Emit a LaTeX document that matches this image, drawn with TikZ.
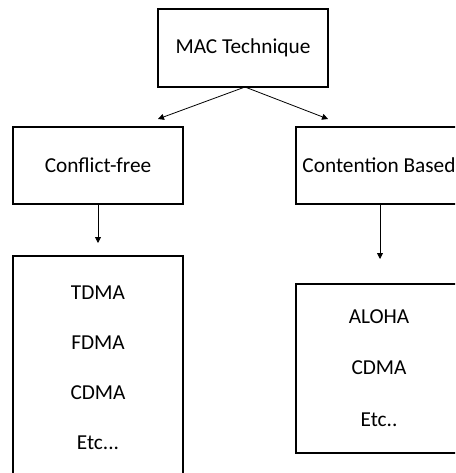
\documentclass[tikz,border=0pt]{standalone}
\usepackage{fontspec}
\setmainfont{Carlito}
\usetikzlibrary{arrows.meta}
\begin{document}
\begin{tikzpicture}[x=1pt,y=-1pt,
  box/.style={draw=black,line width=1.5pt,fill=white,inner sep=0pt,
    font=\fontsize{21.3}{50}\selectfont,align=center},
  link/.style={line width=0.8pt,-{Triangle[length=6pt,width=6pt]}}]
\useasboundingbox (0,0) rectangle (455,473);
\clip (0,0) rectangle (455,473);
% top level
\node[box,minimum width=170pt,minimum height=78pt] (mac) at (243,48) {MAC Technique};
% second level
\node[box,minimum width=170pt,minimum height=77pt] (free) at (98,165.5) {Conflict-free};
\node[box,minimum width=166pt,minimum height=77pt] (cont) at (379,165.5) {Contention Based};
% protocol lists
\node[box,minimum width=170pt,minimum height=223pt] (freelist) at (98,367.5)
  {TDMA\\FDMA\\CDMA\\Etc...};
\node[box,minimum width=166pt,minimum height=169pt] (contlist) at (379,368.5)
  {ALOHA\\[1pt]CDMA\\[2pt]Etc..};
% arrow ends
\coordinate (apex) at (245,87);
\coordinate (tipL) at (158,119);
\coordinate (tipR) at (328,119);
\coordinate (freeEnd) at (98,243);
\coordinate (contStart) at (380,204);
\coordinate (contEnd) at (380,259);
\draw[link] (apex) -- (tipL);
\draw[link] (apex) -- (tipR);
\draw[link] (free.south) -- (freeEnd);
\draw[link] (contStart) -- (contEnd);
\end{tikzpicture}
\end{document}
